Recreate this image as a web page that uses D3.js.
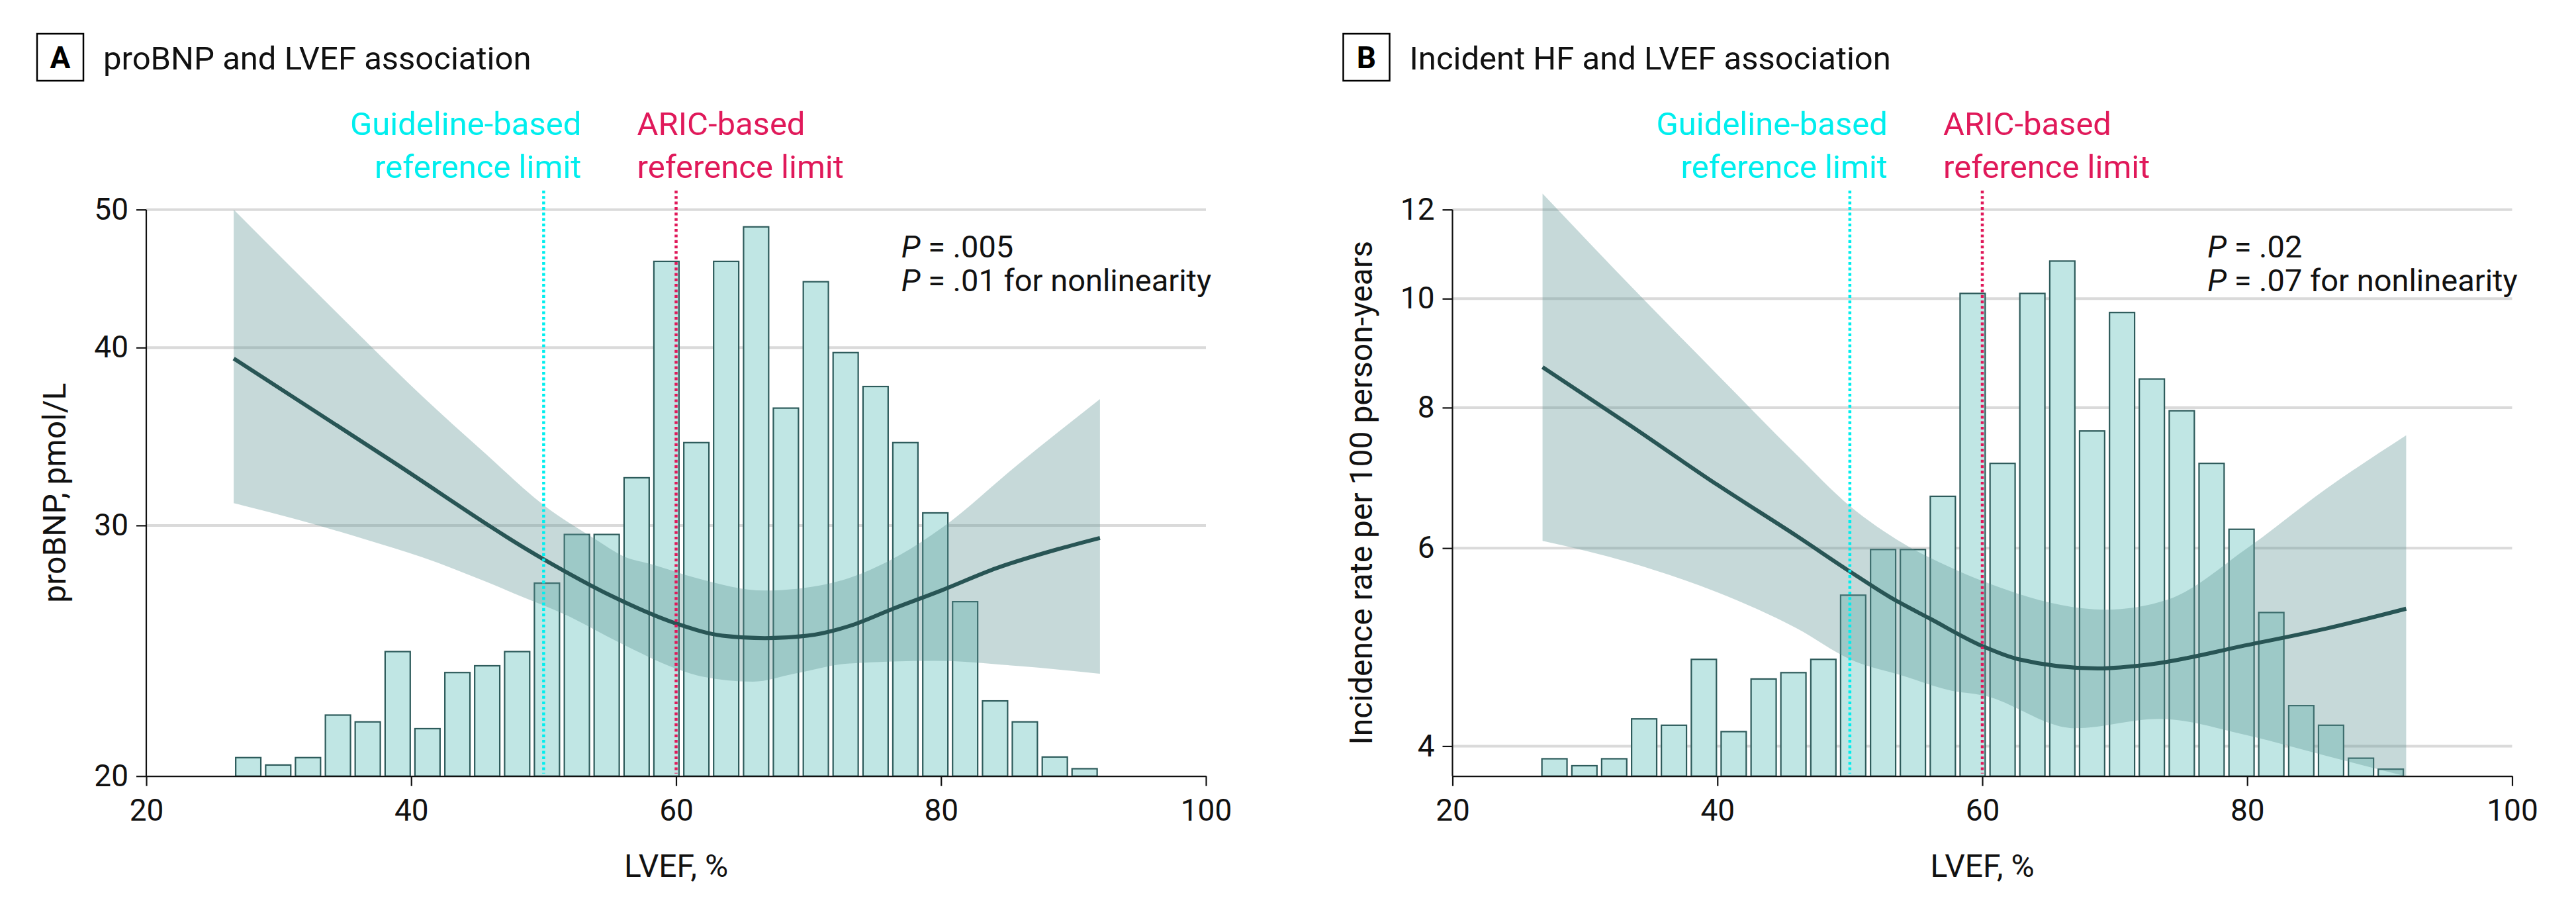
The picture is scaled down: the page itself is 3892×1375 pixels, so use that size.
<!DOCTYPE html>
<html>
<head>
<meta charset="utf-8">
<script src="https://cdn.jsdelivr.net/npm/d3@7"></script>
<style>
  html, body { margin: 0; padding: 0; background: #ffffff; }
  svg { display: block; font-family: Roboto, "Open Sans", "Noto Sans", sans-serif; }
</style>
</head>
<body>
<svg id="chart" width="3892" height="1375"></svg>
<script>
// ---------------- DATA ----------------
const xTicks = [20, 40, 60, 80, 100];
const probnpTicks = [20, 30, 40, 50];
const hfTicks = [4, 6, 8, 10, 12];

// LVEF histogram (bin centers, % of participants)
const lvefBinCenters = [27.70, 29.96, 32.21, 34.47, 36.72, 38.98, 41.23, 43.49, 45.74, 48.00,
  50.25, 52.51, 54.76, 57.02, 59.27, 61.53, 63.78, 66.04, 68.29, 70.55,
  72.80, 75.06, 77.31, 79.57, 81.82, 84.08, 86.33, 88.59, 90.84];
const lvefBinWidth = 2.255;
const participantPct = [0.30, 0.18, 0.30, 0.99, 0.88, 2.02, 0.77, 1.68, 1.79, 2.02,
  3.13, 3.92, 3.92, 4.84, 8.35, 5.41, 8.35, 8.91, 5.97, 8.02,
  6.87, 6.32, 5.41, 4.27, 2.83, 1.22, 0.88, 0.31, 0.12];

// Panel A: proBNP spline (LVEF, pmol/L)
const probnpFit = [[26.6, 39.3], [38.3, 33.4], [50, 28.4], [55, 26.8], [60, 25.6], [63.5, 25.1],
  [66.7, 25.0], [69.9, 25.1], [73.1, 25.5], [76.3, 26.2], [80, 27.0], [84.2, 28.0], [89, 28.9], [92, 29.4]];
const probnpUpper = [[26.6, 50.0], [31.3, 45.2], [36.7, 40.3], [40.8, 37.0], [45.6, 33.7], [50, 31.0],
  [54, 29.3], [56, 28.55], [58.3, 28.15], [61.5, 27.56], [66.7, 27.0], [71.5, 27.3], [76.9, 28.6],
  [80.1, 29.9], [85.8, 33.1], [92, 36.8]];
const probnpLower = [[26.6, 31.1], [31.3, 30.3], [36.7, 29.3], [40.8, 28.5], [45.6, 27.4], [48.5, 26.7],
  [51.5, 26.0], [55.8, 24.8], [60, 23.8], [61.9, 23.5], [65.8, 23.3], [68.9, 23.6], [73.1, 24.0],
  [79.5, 24.1], [85.8, 23.9], [92, 23.6]];

// Panel B: incident HF spline (LVEF, rate per 100 person-years)
const hfFit = [[26.8, 8.69], [33.3, 7.73], [40, 6.83], [46, 6.15], [50, 5.72], [53, 5.43], [56.1, 5.19],
  [60, 4.91], [62.7, 4.78], [68.7, 4.69], [72.7, 4.73], [80, 4.92], [86, 5.09], [92, 5.30]];
const hfUpper = [[26.8, 12.4], [34.2, 10.05], [40, 8.56], [46, 7.26], [50, 6.54], [54, 6.06], [57.7, 5.76],
  [60, 5.61], [69.3, 5.29], [74, 5.40], [80, 6.00], [86, 6.78], [92, 7.56]];
const hfLower = [[26.8, 6.09], [33.3, 5.83], [40, 5.48], [46, 5.09], [50, 4.78], [54, 4.62], [57.7, 4.48],
  [60, 4.44], [67, 4.15], [73.3, 4.23], [80, 4.09], [86, 3.92], [92, 3.76]];

const referenceLimits = [
  { lvef: 50, lines: ["Guideline-based", "reference limit"], color: "#00EEEE", anchor: "end" },
  { lvef: 60, lines: ["ARIC-based", "reference limit"], color: "#E0195A", anchor: "start" }
];

const panels = [
  { letter: "A", title: "proBNP and LVEF association", yLabel: "proBNP, pmol/L",
    yDomain: [20, 50], yTicks: probnpTicks, fit: probnpFit, upper: probnpUpper, lower: probnpLower,
    pctMax: 9.19, pLines: [".005", ".01 for nonlinearity"] },
  { letter: "B", title: "Incident HF and LVEF association", yLabel: "Incidence rate per 100 person-years",
    yDomain: [3.762, 12], yTicks: hfTicks, fit: hfFit, upper: hfUpper, lower: hfLower,
    pctMax: 9.80, pLines: [".02", ".07 for nonlinearity"] }
];

// ---------------- LAYOUT / STYLE ----------------
const panelOffsets = [0, 1973.5];
const plot = { left: 221, top: 316.7, width: 1601, height: 856 };
const C = {
  text: "#111111", axis: "#111111", grid: "#DADADA",
  barFill: "#C0E6E4", barStroke: "#2D5B5B",
  band: "rgb(92,146,146)", bandOpacity: 0.35,
  line: "#285555"
};

const svg = d3.select("#chart");

panels.forEach((p, i) => {
  const g = svg.append("g").attr("transform", `translate(${panelOffsets[i]},0)`);
  const x = d3.scaleLinear().domain([20, 100]).range([plot.left, plot.left + plot.width]);
  const y = d3.scaleLog().domain(p.yDomain).range([plot.top + plot.height, plot.top]);
  const yPct = d3.scaleLinear().domain([0, p.pctMax]).range([plot.top + plot.height, plot.top]);
  const bottom = plot.top + plot.height;

  // panel label box + title
  g.append("rect").attr("x", 56).attr("y", 51).attr("width", 70).attr("height", 71)
    .attr("fill", "none").attr("stroke", "#000").attr("stroke-width", 2.5);
  g.append("text").attr("x", 91).attr("y", 103).attr("text-anchor", "middle")
    .attr("font-size", 46).attr("font-weight", 700).attr("fill", "#000").text(p.letter);
  g.append("text").attr("x", 156).attr("y", 105).attr("font-size", 49).attr("fill", C.text).text(p.title);

  // gridlines
  g.append("g").selectAll("line").data(p.yTicks.filter(t => t > p.yDomain[0])).join("line")
    .attr("x1", plot.left).attr("x2", plot.left + plot.width)
    .attr("y1", d => y(d)).attr("y2", d => y(d))
    .attr("stroke", C.grid).attr("stroke-width", 4);

  // histogram bars
  const barInset = 3.6;
  g.append("g").selectAll("rect").data(lvefBinCenters).join("rect")
    .attr("x", d => x(d - lvefBinWidth / 2) + barInset)
    .attr("width", d => x(d + lvefBinWidth / 2) - x(d - lvefBinWidth / 2) - 2 * barInset)
    .attr("y", (d, k) => yPct(participantPct[k]))
    .attr("height", (d, k) => bottom - yPct(participantPct[k]))
    .attr("fill", C.barFill).attr("stroke", C.barStroke).attr("stroke-width", 2.2);

  // confidence band
  const ln = d3.line().x(d => x(d[0])).y(d => y(d[1])).curve(d3.curveMonotoneX);
  const bandPath = ln(p.upper) + ln(p.lower.slice().reverse()).replace(/^M/, "L") + "Z";
  g.append("path").attr("d", bandPath).attr("fill", C.band).attr("fill-opacity", C.bandOpacity);

  // fitted spline
  g.append("path").attr("d", ln(p.fit)).attr("fill", "none")
    .attr("stroke", C.line).attr("stroke-width", 6).attr("stroke-linecap", "butt");

  // axes
  const xAxis = d3.axisBottom(x).tickValues(xTicks).tickSize(15).tickSizeOuter(0).tickPadding(20);
  const gx = g.append("g").attr("transform", `translate(0,${bottom})`).call(xAxis);
  const yAxis = d3.axisLeft(y).tickValues(p.yTicks).tickFormat(d3.format("d")).tickSize(15).tickSizeOuter(0).tickPadding(12);
  const gy = g.append("g").attr("transform", `translate(${plot.left},0)`).call(yAxis);
  [gx, gy].forEach(a => {
    a.select(".domain").attr("stroke", C.axis).attr("stroke-width", 2.2);
    a.selectAll(".tick line").attr("stroke", C.axis).attr("stroke-width", 2.2);
    a.selectAll(".tick text").attr("fill", C.text).attr("font-size", 46)
      .attr("font-family", "Roboto, 'Open Sans', sans-serif");
  });
  gy.select(".domain").attr("d", `M0,${plot.top}V${bottom}`);

  // axis titles
  g.append("text").attr("x", x(60)).attr("y", 1325).attr("text-anchor", "middle")
    .attr("font-size", 48).attr("fill", C.text).text("LVEF, %");
  g.append("text").attr("transform", `translate(${plot.left - 122},${plot.top + plot.height / 2}) rotate(-90)`)
    .attr("text-anchor", "middle").attr("font-size", 48).attr("fill", C.text).text(p.yLabel);

  // reference limits
  referenceLimits.forEach(r => {
    g.append("line").attr("x1", x(r.lvef)).attr("x2", x(r.lvef))
      .attr("y1", 288).attr("y2", bottom - 4)
      .attr("stroke", r.color).attr("stroke-width", 4.5).attr("stroke-dasharray", "4.2 4.1");
    const tx = r.anchor === "end" ? x(r.lvef) + 57 : x(r.lvef) - 59;
    r.lines.forEach((t, k) => {
      g.append("text").attr("x", tx).attr("y", 204 + k * 65).attr("text-anchor", r.anchor)
        .attr("font-size", 49).attr("fill", r.color).text(t);
    });
  });

  // P values
  p.pLines.forEach((t, k) => {
    const tt = g.append("text").attr("x", x(77)).attr("y", 389 + k * 51)
      .attr("font-size", 47).attr("fill", C.text);
    tt.append("tspan").attr("font-style", "italic").text("P");
    tt.append("tspan").text(" = " + t);
  });
});
</script>
</body>
</html>
